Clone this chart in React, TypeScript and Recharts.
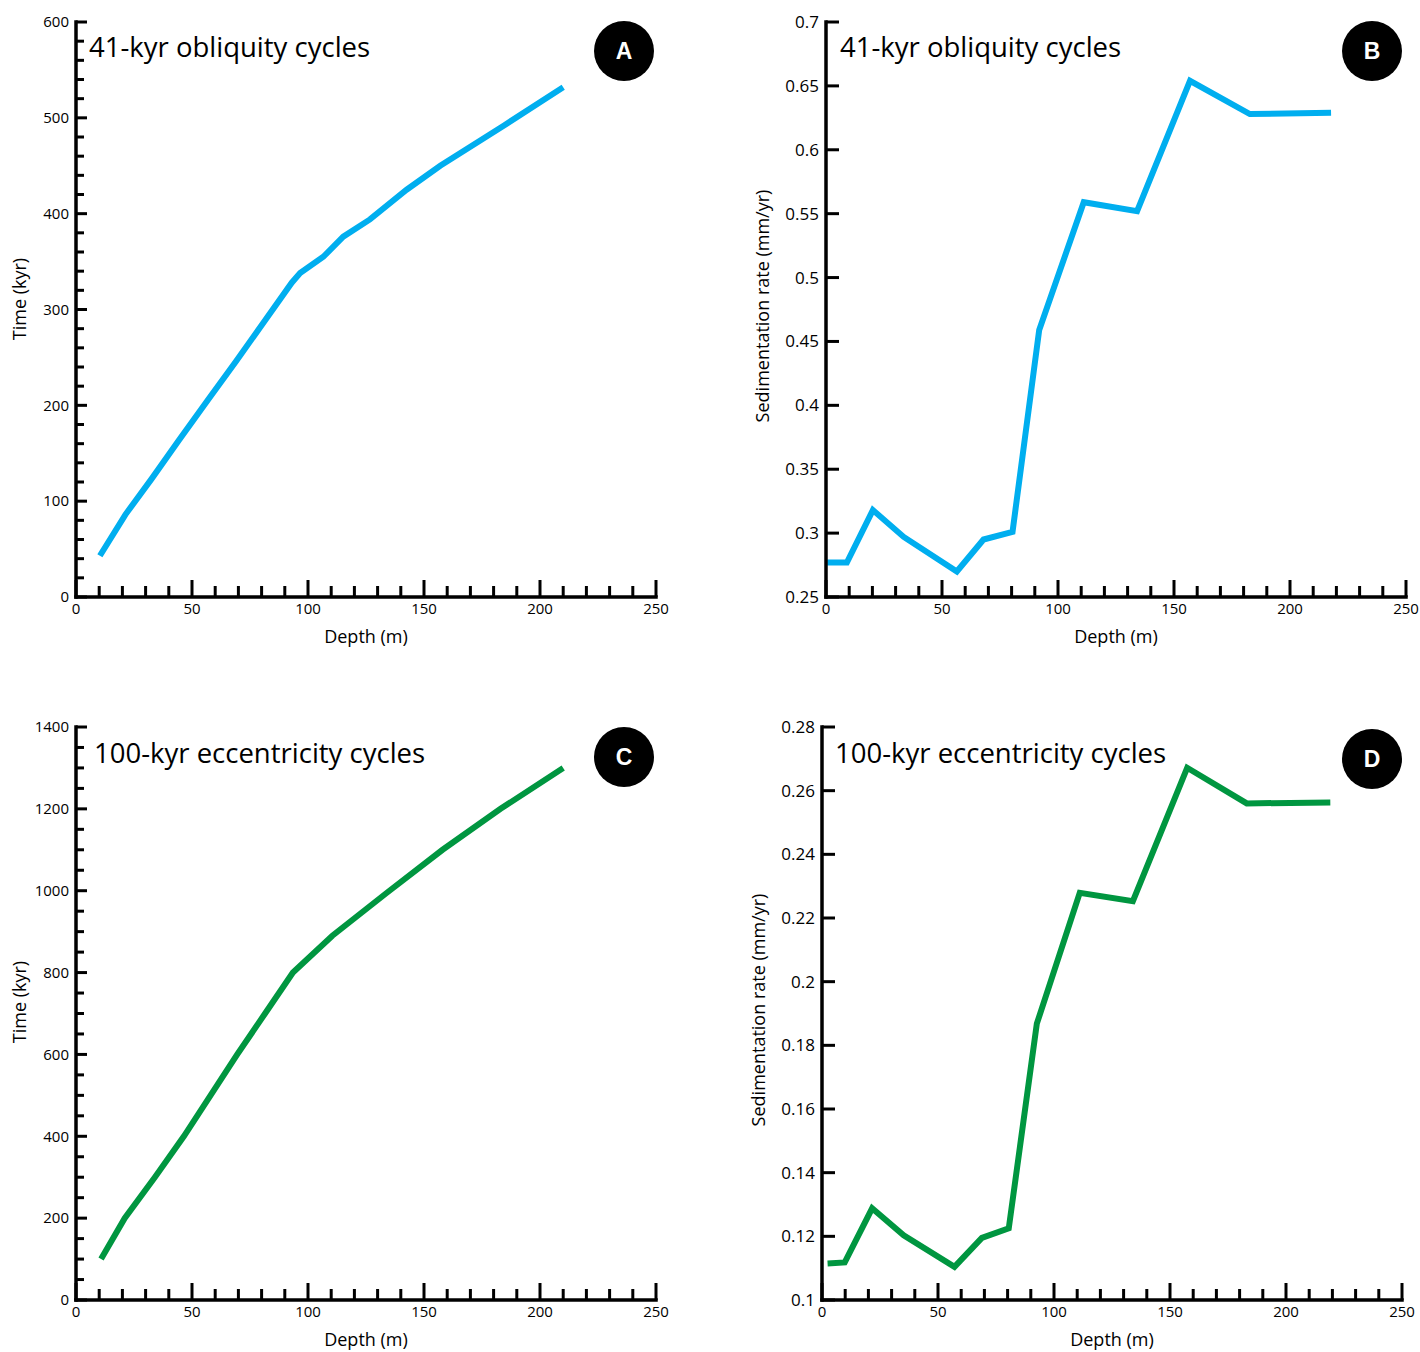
import React from 'react';
import { LineChart, Line, XAxis, YAxis, Label } from 'recharts';

const FONT = '"Open Sans", sans-serif';
const BLUE = '#00aeef';
const GREEN = '#009640';

// A: age-depth tie points, 41-kyr obliquity tuning
const oblDepth = [10.3, 21.3, 32.5, 44.5, 57, 69, 81, 93, 96.6, 106.6, 115.2, 126.7, 142.5, 157, 184.5, 210];
const oblTime = [43, 86, 123, 164, 206, 246, 287, 328, 338, 355, 376, 394, 425, 450, 492, 532];

// B: sedimentation rate, 41-kyr obliquity tuning
const oblRateDepth = [0.5, 9, 20.2, 33.5, 56.4, 67.9, 80.4, 91.9, 111.1, 134.1, 156.9, 182.7, 217.7];
const oblRate = [0.277, 0.277, 0.318, 0.297, 0.27, 0.295, 0.301, 0.459, 0.559, 0.552, 0.654, 0.628, 0.629];

// C: age-depth tie points, 100-kyr eccentricity tuning
const eccDepth = [10.8, 21, 34, 46.5, 58, 69.5, 81.5, 93.5, 110.5, 134, 158, 183, 210];
const eccTime = [100, 200, 300, 400, 500, 600, 700, 800, 890, 995, 1100, 1200, 1300];

// D: sedimentation rate, 100-kyr eccentricity tuning
const eccRateDepth = [2.4, 9.8, 21.6, 35.2, 57.1, 68.9, 80.5, 92.6, 111.1, 134.0, 157.4, 183.1, 219.1];
const eccRate = [0.1115, 0.1118, 0.1288, 0.1203, 0.1104, 0.1195, 0.1225, 0.1868, 0.2279, 0.2253, 0.2672, 0.256, 0.2563];

const range = (start: number, end: number, step: number) => {
  const out: number[] = [];
  for (let i = 0; start + i * step <= end + 1e-9; i++) out.push(Math.round((start + i * step) * 1000) / 1000);
  return out;
};

const depthTicks = range(0, 250, 10);

const toRows = (xs: number[], ys: number[]) => xs.map((x, i) => ({ depth: x, value: ys[i] }));

const XTick = ({ x, y, payload }: any) => {
  const v = payload.value;
  const major = v % 50 === 0;
  return (
    <g>
      <line x1={x} x2={x} y1={y} y2={y - (major ? 17 : 11)} stroke="#000" strokeWidth={3} />
      {major && (
        <text x={x} y={y + 17} textAnchor="middle" fontSize={15} fontFamily={FONT} fill="#000">
          {v}
        </text>
      )}
    </g>
  );
};

const makeYTick = (isMajor: (v: number) => boolean, fontSize: number, majorLen: number, minorLen: number) =>
  ({ x, y, payload }: any) => {
    const v = payload.value;
    const major = isMajor(v);
    return (
      <g>
        <line x1={x} x2={x + (major ? majorLen : minorLen)} y1={y} y2={y} stroke="#000" strokeWidth={3} />
        {major && (
          <text x={x - 7} y={y + fontSize * 0.35} textAnchor="end" fontSize={fontSize} fontFamily={FONT} fill="#000">
            {String(Math.round(v * 100) / 100)}
          </text>
        )}
      </g>
    );
  };

type PanelProps = {
  left: number;
  top: number;
  margin: { top: number; right: number; bottom: number; left: number };
  rows: { depth: number; value: number }[];
  color: string;
  yDomain: [number, number];
  yTicks: number[];
  yTick: any;
  yTitle: string;
  yTitleX: number;
  yTitleY: number;
  title: string;
  titleX: number;
  titleY: number;
  badge: string;
  badgeX: number;
  badgeY: number;
};

const W = 710;
const H = 676;

const Panel = (p: PanelProps) => (
  <div style={{ position: 'absolute', left: p.left, top: p.top, width: W, height: H }}>
    <LineChart width={W} height={H} data={p.rows} margin={p.margin}>
      <XAxis
        dataKey="depth"
        type="number"
        domain={[0, 250]}
        ticks={depthTicks}
        interval={0}
        height={40}
        tickSize={0}
        tickMargin={0}
        tickLine={false}
        axisLine={{ stroke: '#000', strokeWidth: 3.5, strokeLinecap: 'square' }}
        tick={<XTick />}
      >
        <Label
          content={({ viewBox }: any) => (
            <text
              x={viewBox.x + viewBox.width / 2}
              y={viewBox.y + 46}
              textAnchor="middle"
              fontSize={18}
              fontFamily={FONT}
              fill="#000"
            >
              Depth (m)
            </text>
          )}
        />
      </XAxis>
      <YAxis
        type="number"
        domain={p.yDomain}
        ticks={p.yTicks}
        interval={0}
        width={60}
        tickSize={0}
        tickMargin={0}
        tickLine={false}
        axisLine={{ stroke: '#000', strokeWidth: 3.5, strokeLinecap: 'square' }}
        tick={p.yTick}
      >
        <Label
          content={() => (
            <text
              x={p.yTitleX}
              y={p.yTitleY}
              transform={`rotate(-90 ${p.yTitleX} ${p.yTitleY})`}
              textAnchor="middle"
              dominantBaseline="central"
              fontSize={18}
              fontFamily={FONT}
              fill="#000"
            >
              {p.yTitle}
            </text>
          )}
        />
      </YAxis>
      <Line
        dataKey="value"
        stroke={p.color}
        strokeWidth={6}
        dot={false}
        activeDot={false}
        isAnimationActive={false}
      />
    </LineChart>
    <svg width={W} height={H} style={{ position: 'absolute', left: 0, top: 0, pointerEvents: 'none' }}>
      <text x={p.titleX} y={p.titleY} fontSize={27.5} fontFamily={FONT} fill="#000">
        {p.title}
      </text>
      <circle cx={p.badgeX} cy={p.badgeY} r={30} fill="#000" />
      <text
        x={p.badgeX}
        y={p.badgeY + 8}
        textAnchor="middle"
        fontSize={23}
        fontWeight="bold"
        fontFamily='"Liberation Sans", Arial, sans-serif'
        fill="#fff"
      >
        {p.badge}
      </text>
    </svg>
  </div>
);

const ageTickA = makeYTick((v) => v % 100 === 0, 15, 11, 8);
const ageTickC = makeYTick((v) => v % 200 === 0, 15, 11, 8);
const rateTick = makeYTick(() => true, 17, 13, 13);

export default function App() {
  return (
    <div style={{ position: 'absolute', left: 0, top: 0, width: 1420, height: 1352, background: '#fff' }}>
      <Panel
        left={0}
        top={0}
        margin={{ top: 22, right: 54, bottom: 39, left: 16 }}
        rows={toRows(oblDepth, oblTime)}
        color={BLUE}
        yDomain={[0, 600]}
        yTicks={range(0, 600, 20)}
        yTick={ageTickA}
        yTitle="Time (kyr)"
        yTitleX={19}
        yTitleY={299}
        title="41-kyr obliquity cycles"
        titleX={89}
        titleY={57}
        badge="A"
        badgeX={624}
        badgeY={51}
      />
      <Panel
        left={710}
        top={0}
        margin={{ top: 22, right: 14, bottom: 39, left: 56 }}
        rows={toRows(oblRateDepth, oblRate)}
        color={BLUE}
        yDomain={[0.25, 0.7]}
        yTicks={range(0.25, 0.7, 0.05)}
        yTick={rateTick}
        yTitle="Sedimentation rate (mm/yr)"
        yTitleX={52}
        yTitleY={306}
        title="41-kyr obliquity cycles"
        titleX={130}
        titleY={57}
        badge="B"
        badgeX={662}
        badgeY={51}
      />
      <Panel
        left={0}
        top={676}
        margin={{ top: 51, right: 54, bottom: 12, left: 16 }}
        rows={toRows(eccDepth, eccTime)}
        color={GREEN}
        yDomain={[0, 1400]}
        yTicks={range(0, 1400, 50)}
        yTick={ageTickC}
        yTitle="Time (kyr)"
        yTitleX={19}
        yTitleY={326}
        title="100-kyr eccentricity cycles"
        titleX={94}
        titleY={87}
        badge="C"
        badgeX={624}
        badgeY={81}
      />
      <Panel
        left={710}
        top={676}
        margin={{ top: 51, right: 18, bottom: 12, left: 52 }}
        rows={toRows(eccRateDepth, eccRate)}
        color={GREEN}
        yDomain={[0.1, 0.28]}
        yTicks={range(0.1, 0.28, 0.02)}
        yTick={rateTick}
        yTitle="Sedimentation rate (mm/yr)"
        yTitleX={48}
        yTitleY={334}
        title="100-kyr eccentricity cycles"
        titleX={125}
        titleY={87}
        badge="D"
        badgeX={662}
        badgeY={83}
      />
    </div>
  );
}
